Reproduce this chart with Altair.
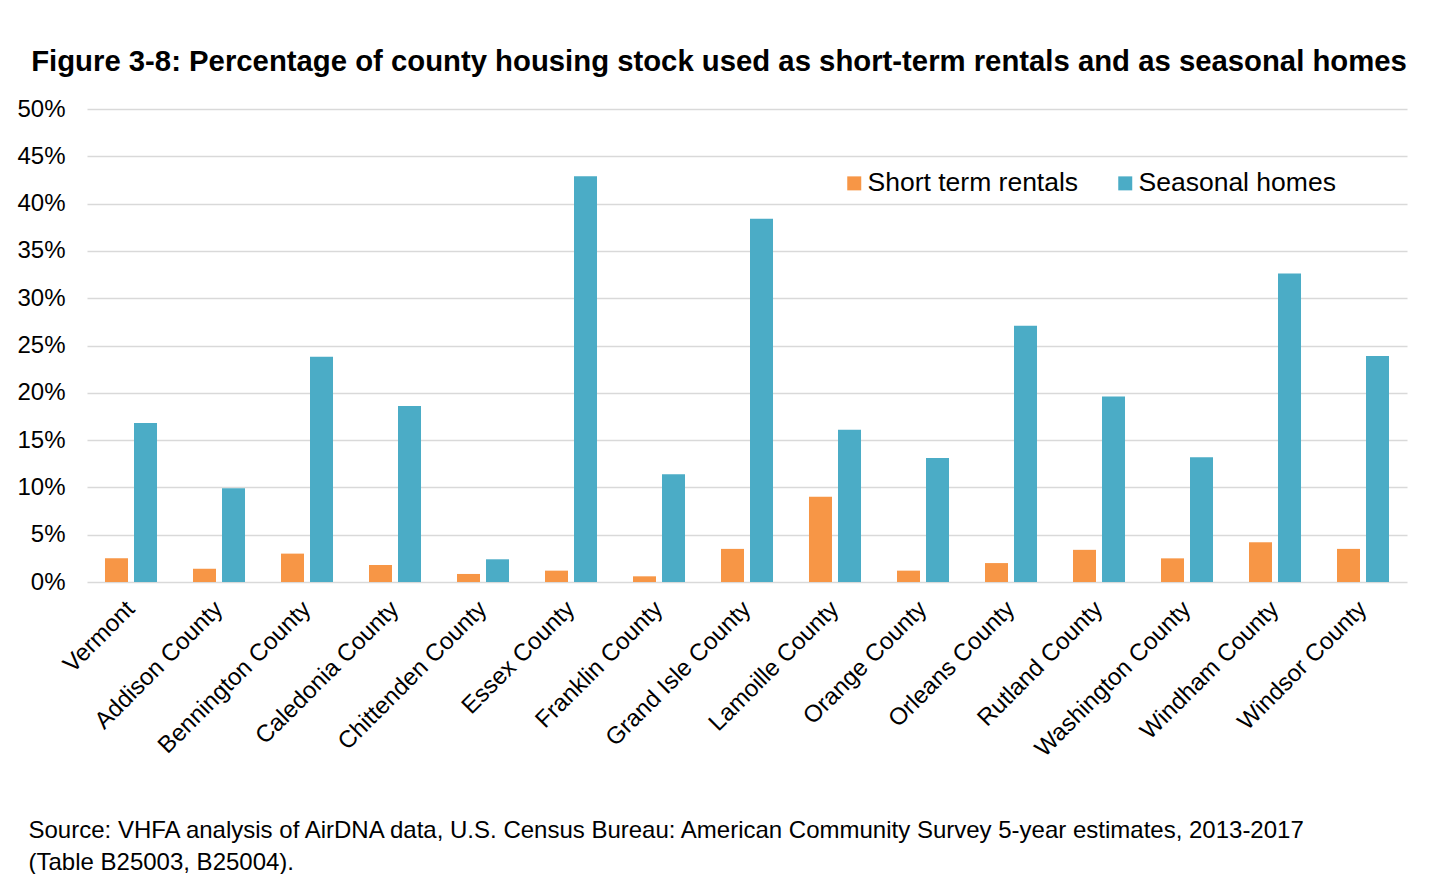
import altair as alt
import pandas as pd

counties = ["Vermont", "Addison County", "Bennington County", "Caledonia County",
            "Chittenden County", "Essex County", "Franklin County", "Grand Isle County",
            "Lamoille County", "Orange County", "Orleans County", "Rutland County",
            "Washington County", "Windham County", "Windsor County"]
short_term = [2.5, 1.4, 3.0, 1.8, 0.85, 1.2, 0.6, 3.5, 9.0, 1.2, 2.0, 3.4, 2.5, 4.2, 3.5]
seasonal = [16.8, 9.9, 23.8, 18.6, 2.4, 42.9, 11.4, 38.4, 16.1, 13.1, 27.1, 19.6, 13.2, 32.6, 23.9]
series = ["Short term rentals", "Seasonal homes"]
colors = ["#F79646", "#4BACC6"]
y_ticks = [0, 5, 10, 15, 20, 25, 30, 35, 40, 45, 50]

title_text = "Figure 3-8: Percentage of county housing stock used as short-term rentals and as seasonal homes"
source_lines = ["Source: VHFA analysis of AirDNA data, U.S. Census Bureau: American Community Survey 5-year estimates, 2013-2017",
                "(Table B25003, B25004)."]

rows = []
for c, s, h in zip(counties, short_term, seasonal):
    rows.append({"county": c, "series": series[0], "value": s})
    rows.append({"county": c, "series": series[1], "value": h})
df = pd.DataFrame(rows)

FONT = "Liberation Sans"

chart = alt.Chart(df).mark_bar().encode(
    x=alt.X("county:N", sort=counties,
            scale=alt.Scale(paddingInner=0, paddingOuter=0),
            axis=alt.Axis(title=source_lines, labelAngle=-45, labelAlign="right",
                          labelBaseline="middle", labelPadding=23, labelFontSize=24,
                          labelFont=FONT, labelColor="#000000", ticks=False, domain=False,
                          grid=False, labelLimit=400,
                          titleFont=FONT, titleFontSize=24, titleFontWeight="normal",
                          titleColor="#000000", titleAlign="left", titleAnchor="start",
                          titleBaseline="alphabetic", titleX=-59, titleY=255,
                          titleLineHeight=32)),
    xOffset=alt.XOffset("series:N", sort=series,
                        scale=alt.Scale(domain=series, paddingInner=0.207, paddingOuter=0.62)),
    y=alt.Y("value:Q",
            scale=alt.Scale(domain=[0, 50], nice=False),
            axis=alt.Axis(title=None, values=y_ticks, labelExpr="datum.value + '%'",
                          labelFontSize=24, labelFont=FONT, labelColor="#000000",
                          labelPadding=22, ticks=False, domain=False,
                          grid=True, gridColor="#D9D9D9", gridWidth=1.5)),
    color=alt.Color("series:N",
                    scale=alt.Scale(domain=series, range=colors),
                    legend=alt.Legend(title=None, orient="none", direction="horizontal",
                                      legendX=754, legendY=61, symbolType="square",
                                      symbolSize=196, symbolStrokeWidth=0,
                                      labelFontSize=26.5, labelFont=FONT,
                                      labelColor="#000000", labelOffset=0,
                                      columnPadding=33, labelLimit=400, padding=0)),
).properties(
    width=1320,
    height=473,
    title=alt.TitleParams(title_text, font=FONT, fontSize=29.3, fontWeight="bold",
                          color="#000000", anchor="middle", dx=-28, offset=20),
    padding={"left": 8, "top": 39, "right": 15, "bottom": 0},
).configure_view(stroke="transparent")

chart.save("out.html", embed_options={"renderer": "svg", "actions": False})
